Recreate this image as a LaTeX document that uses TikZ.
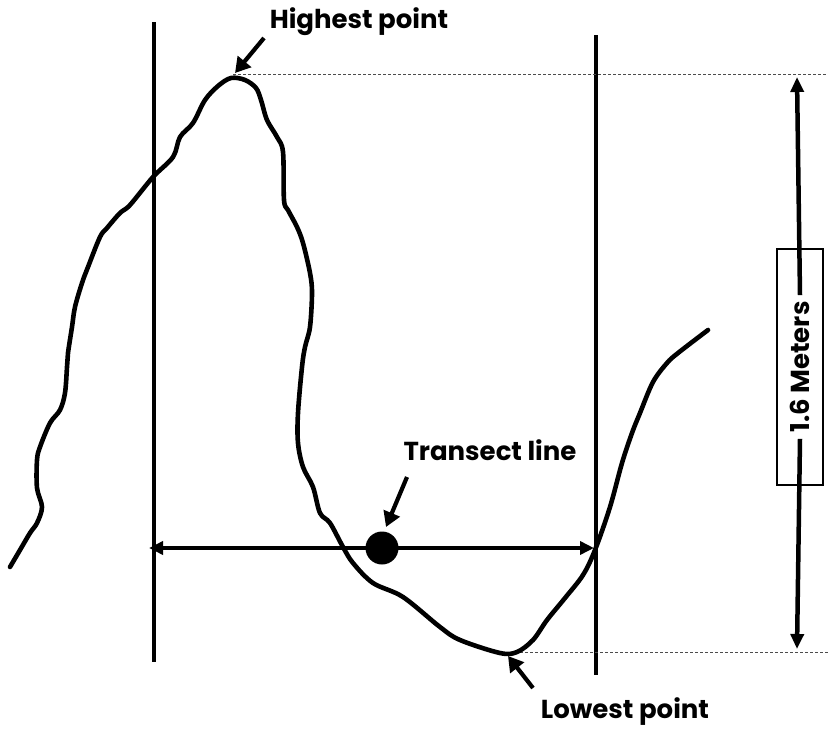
\documentclass[tikz,border=0pt]{standalone}
\usepackage{fontspec}
\setmainfont{Poppins}
\usetikzlibrary{arrows.meta}
\begin{document}
\begin{tikzpicture}[x=1pt,y=-1pt,
  lbl/.style={font=\bfseries\fontsize{26}{30}\selectfont, inner sep=0pt},
  pointer/.style={line width=4.2pt, -{Triangle[length=15pt,width=17pt]}},
  thick line/.style={line width=4.5pt},
  guide/.style={densely dashed, line width=0.7pt, gray!60!black},
  dim/.style={line width=4.5pt, -{Triangle[length=15pt,width=13pt]}}]
\useasboundingbox (0,0) rectangle (828,731);
% vertical lines
\coordinate (L1) at (154,22); \coordinate (L2) at (154,662);
\coordinate (R1) at (596,35); \coordinate (R2) at (596,675);
\draw[thick line] (L1) -- (L2);
\draw[thick line] (R1) -- (R2);
% dashed guides
\coordinate (top) at (233,74); \coordinate (topE) at (828,74);
\coordinate (bot) at (505,652); \coordinate (botE) at (828,652);
\draw[guide] (top) -- (topE);
\draw[guide] (bot) -- (botE);
% curve
\draw[line width=4.6pt, line join=round, line cap=round] plot[smooth, tension=0.55] coordinates {
(10,567) (20,550) (30,533) (37,523) (42,507) (37,488) (37,460) (40,447) (50,423) (60,410) (65,393) (67,367) (68,353) (72,327) (75,307) (82,283) (88,267) (100,237) (107,228) (120,213) (130,205) (153,177) (173,157) (180,137) (193,123) (205,100) (218,86) (231,78) (245,80) (256,88) (261,100) (267,120) (277,137) (283,152) (284,200) (288,210) (297,227) (303,243) (310,273) (312,293) (310,327) (305,347) (302,367) (298,413) (298,443) (303,467) (313,487) (320,513) (330,523) (343,547) (353,563) (373,583) (403,597) (440,627) (460,640) (500,653) (517,652) (533,640) (547,620) (565,598) (583,575) (595,550) (610,507) (622,463) (632,433) (640,413) (653,382) (667,363) (678,353) (708,330)};
% transect line
\coordinate (TL) at (149,548); \coordinate (TR) at (594,548);
\draw[line width=4pt, {Triangle[length=14pt,width=13pt]}-{Triangle[length=14pt,width=13pt]}] (TL) -- (TR);
\node[circle, fill=black, minimum size=33pt, inner sep=0pt] (dot) at (382,548) {};
% labels
\node[lbl] (high) at (359,22) {Highest point};
\node[lbl] (trans) at (490,450) {Transect line};
\node[lbl] (low) at (625,712) {Lowest point};
% pointers
\coordinate (hA) at (264,38); \coordinate (hB) at (235,73);
\draw[pointer] (hA) -- (hB);
\coordinate (tA) at (407,477); \coordinate (tB) at (386,527);
\draw[pointer] (tA) -- (tB);
\coordinate (lA) at (533,688); \coordinate (lB) at (508,656);
\draw[pointer] (lA) -- (lB);
% dimension
\node[draw, line width=1.2pt, minimum width=46pt, minimum height=236pt, inner sep=0pt] (box) at (800,367) {};
\node[lbl, rotate=90, inner xsep=6pt] (meters) at (800,367) {1.6 Meters};
\coordinate (dT) at (797,77); \coordinate (dB) at (797,649);
\draw[dim] (meters.east) -- (dT);
\draw[dim] (meters.west) -- (dB);
\end{tikzpicture}
\end{document}
